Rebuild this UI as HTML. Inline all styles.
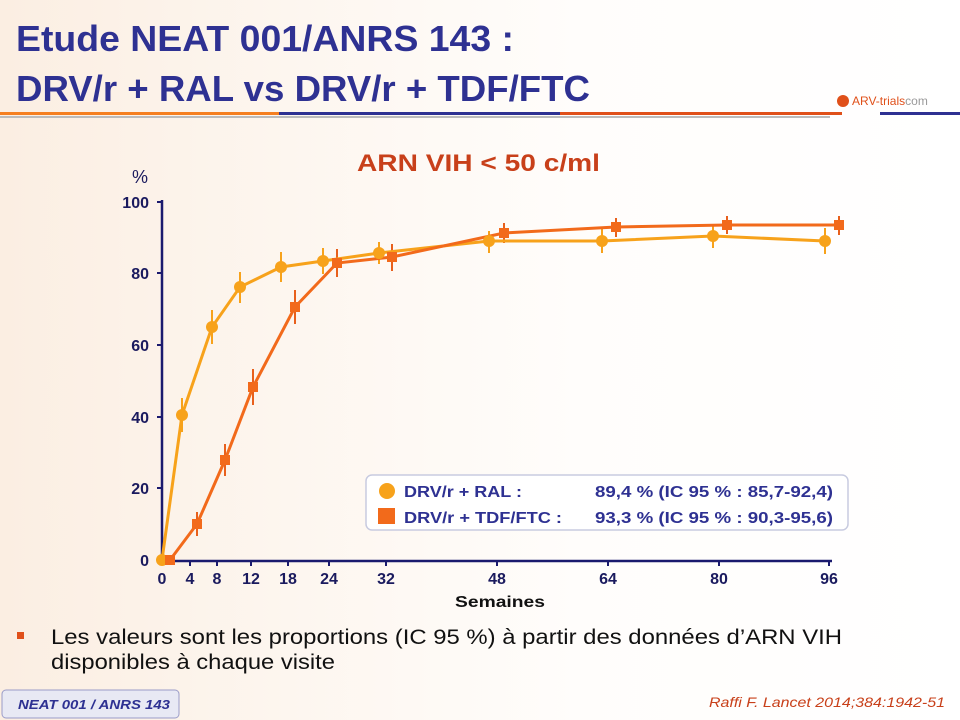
<!DOCTYPE html>
<html><head><meta charset="utf-8"><style>
body{margin:0;width:960px;height:720px;overflow:hidden;font-family:"Liberation Sans",sans-serif;background:linear-gradient(90deg,#fbeee2 0%,#fdf6ef 30%,#fffdfb 60%,#fff 100%);position:relative}
</style></head><body>
<svg width="960" height="720" style="position:absolute;left:0;top:0" font-family="Liberation Sans,sans-serif">
<g font-size="36" font-weight="bold" fill="#2e3192">
<text x="16" y="51" textLength="498" lengthAdjust="spacingAndGlyphs">Etude NEAT 001/ANRS 143 :</text>
<text x="16" y="101" textLength="574" lengthAdjust="spacingAndGlyphs">DRV/r + RAL vs DRV/r + TDF/FTC</text></g>
<rect x="0" y="112" width="279" height="3" fill="#f57f20"/>
<rect x="279" y="112" width="281" height="3" fill="#2e3192"/>
<rect x="560" y="112" width="282" height="3" fill="#e0501a"/>
<rect x="0" y="116" width="830" height="2" fill="#bbb"/>
<rect x="880" y="112" width="80" height="3" fill="#2e3192"/>
<circle cx="843" cy="101" r="6" fill="#e0501a"/>
<text x="852" y="105" font-size="12" fill="#e0501a">ARV-trials<tspan fill="#999">com</tspan></text>
<text x="357" y="171" textLength="243" lengthAdjust="spacingAndGlyphs" font-size="24" font-weight="bold" fill="#c8401a">ARN VIH &lt; 50 c/ml</text>
<text x="140" y="183" text-anchor="middle" font-size="18" fill="#1a1a5e">%</text>
<g stroke="#1a1a6e" stroke-width="2.5"><line x1="162" y1="200" x2="162" y2="561"/><line x1="161" y1="561" x2="832" y2="561"/></g>
<g stroke="#1a1a6e" stroke-width="2">
<line x1="157" y1="202" x2="162" y2="202"/><line x1="157" y1="273" x2="162" y2="273"/><line x1="157" y1="345" x2="162" y2="345"/><line x1="157" y1="417" x2="162" y2="417"/><line x1="157" y1="488" x2="162" y2="488"/>
<line x1="190" y1="561" x2="190" y2="566"/><line x1="217" y1="561" x2="217" y2="566"/><line x1="251" y1="561" x2="251" y2="566"/><line x1="288" y1="561" x2="288" y2="566"/><line x1="329" y1="561" x2="329" y2="566"/><line x1="386" y1="561" x2="386" y2="566"/><line x1="497" y1="561" x2="497" y2="566"/><line x1="608" y1="561" x2="608" y2="566"/><line x1="719" y1="561" x2="719" y2="566"/><line x1="829" y1="561" x2="829" y2="566"/></g>
<g font-size="16" font-weight="bold" fill="#1a1a5e" text-anchor="end">
<text x="149" y="208">100</text><text x="149" y="279">80</text><text x="149" y="351">60</text><text x="149" y="423">40</text><text x="149" y="494">20</text><text x="149" y="566">0</text></g>
<g font-size="16" font-weight="bold" fill="#1a1a5e" text-anchor="middle">
<text x="162" y="584">0</text><text x="190" y="584">4</text><text x="217" y="584">8</text><text x="251" y="584">12</text><text x="288" y="584">18</text><text x="329" y="584">24</text><text x="386" y="584">32</text><text x="497" y="584">48</text><text x="608" y="584">64</text><text x="719" y="584">80</text><text x="829" y="584">96</text></g>
<text x="455" y="607" textLength="90" lengthAdjust="spacingAndGlyphs" font-size="16" font-weight="bold" fill="#111">Semaines</text>
<g stroke="#f7a21b" stroke-width="2">
<line x1="182" y1="398" x2="182" y2="432"/><line x1="212" y1="310" x2="212" y2="344"/><line x1="240" y1="272" x2="240" y2="303"/><line x1="281" y1="252" x2="281" y2="282"/><line x1="323" y1="248" x2="323" y2="274"/><line x1="379" y1="242" x2="379" y2="264"/><line x1="489" y1="231" x2="489" y2="253"/><line x1="602" y1="229" x2="602" y2="253"/><line x1="713" y1="224" x2="713" y2="248"/><line x1="825" y1="228" x2="825" y2="254"/></g>
<g stroke="#e8601c" stroke-width="2">
<line x1="197" y1="512" x2="197" y2="536"/><line x1="225" y1="444" x2="225" y2="476"/><line x1="253" y1="369" x2="253" y2="405"/><line x1="295" y1="290" x2="295" y2="324"/><line x1="337" y1="249" x2="337" y2="277"/><line x1="392" y1="244" x2="392" y2="271"/><line x1="504" y1="223" x2="504" y2="243"/><line x1="616" y1="218" x2="616" y2="237"/><line x1="727" y1="216" x2="727" y2="234"/><line x1="839" y1="216" x2="839" y2="235"/></g>
<polyline fill="none" stroke="#f7a21b" stroke-width="3" points="162,560 182,415 212,327 240,287 281,267 323,261 379,253 489,241 602,241 713,236 825,241"/>
<polyline fill="none" stroke="#f26a1b" stroke-width="3" points="170,560 197,524 225,460 253,387 295,307 337,263 392,257 504,233 616,227 727,225 839,225"/>
<g fill="#f7a21b"><circle cx="162" cy="560" r="6"/><circle cx="182" cy="415" r="6"/><circle cx="212" cy="327" r="6"/><circle cx="240" cy="287" r="6"/><circle cx="281" cy="267" r="6"/><circle cx="323" cy="261" r="6"/><circle cx="379" cy="253" r="6"/><circle cx="489" cy="241" r="6"/><circle cx="602" cy="241" r="6"/><circle cx="713" cy="236" r="6"/><circle cx="825" cy="241" r="6"/></g>
<g fill="#f26a1b"><rect x="165" y="555" width="10" height="10"/><rect x="192" y="519" width="10" height="10"/><rect x="220" y="455" width="10" height="10"/><rect x="248" y="382" width="10" height="10"/><rect x="290" y="302" width="10" height="10"/><rect x="332" y="258" width="10" height="10"/><rect x="387" y="252" width="10" height="10"/><rect x="499" y="228" width="10" height="10"/><rect x="611" y="222" width="10" height="10"/><rect x="722" y="220" width="10" height="10"/><rect x="834" y="220" width="10" height="10"/></g>
<rect x="366" y="475" width="482" height="55" rx="6" fill="#fff" stroke="#c8cbe0" stroke-width="1.5"/>
<circle cx="387" cy="491" r="8" fill="#f7a21b"/><rect x="378" y="508" width="17" height="16" fill="#f26a1b"/>
<g font-size="16" font-weight="bold" fill="#2e3192">
<text x="404" y="497" textLength="118" lengthAdjust="spacingAndGlyphs">DRV/r + RAL :</text><text x="404" y="523" textLength="158" lengthAdjust="spacingAndGlyphs">DRV/r + TDF/FTC :</text>
<text x="595" y="497" textLength="238" lengthAdjust="spacingAndGlyphs">89,4 % (IC 95 % : 85,7-92,4)</text><text x="595" y="523" textLength="238" lengthAdjust="spacingAndGlyphs">93,3 % (IC 95 % : 90,3-95,6)</text></g>
<rect x="17" y="632" width="7" height="7" fill="#e0501a"/>
<g font-size="21" fill="#111"><text x="51" y="644" textLength="791" lengthAdjust="spacingAndGlyphs">Les valeurs sont les proportions (IC 95 %) à partir des données d’ARN VIH</text><text x="51" y="669" textLength="284" lengthAdjust="spacingAndGlyphs">disponibles à chaque visite</text></g>
<rect x="2" y="690" width="177" height="28" rx="4" fill="#e8e9f4" stroke="#9a9cc8"/>
<text x="18" y="709" textLength="152" lengthAdjust="spacingAndGlyphs" font-size="13" font-style="italic" font-weight="bold" fill="#2e3192">NEAT 001 / ANRS 143</text>
<text x="709" y="707" textLength="236" lengthAdjust="spacingAndGlyphs" font-size="14" font-style="italic" fill="#c8401a">Raffi F. Lancet 2014;384:1942-51</text>
</svg>
</body></html>
